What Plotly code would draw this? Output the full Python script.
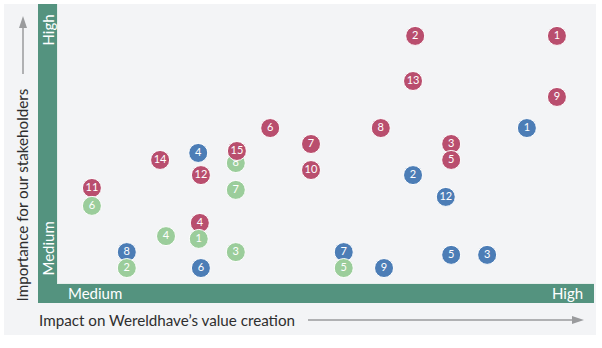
import plotly.graph_objects as go

# ---- data (impact on value creation x, importance for stakeholders y; 0-100 scale) ----
red_labels = ["1", "2", "13", "9", "8", "6", "7", "3", "5", "10", "15", "14", "12", "11", "4"]
red_x = [93.1, 66.7, 66.3, 93.1, 60.3, 39.7, 47.3, 73.4, 73.4, 47.3, 33.5, 19.2, 26.8, 6.5, 26.6]
red_y = [88.6, 88.6, 72.5, 66.8, 55.7, 55.7, 50.0, 50.0, 44.3, 40.7, 47.5, 44.3, 38.9, 34.3, 21.8]

blue_labels = ["1", "4", "2", "12", "7", "8", "5", "3", "6", "9"]
blue_x = [87.5, 26.3, 66.3, 72.4, 53.4, 13.0, 73.4, 80.1, 26.8, 60.9]
blue_y = [55.7, 46.8, 38.9, 31.1, 11.4, 11.4, 10.4, 10.4, 5.7, 5.7]

green_labels = ["8", "7", "6", "4", "1", "3", "2", "5"]
green_x = [33.3, 33.3, 6.5, 20.3, 26.4, 33.3, 13.0, 53.4]
green_y = [43.2, 33.6, 27.9, 17.1, 16.1, 11.4, 5.7, 5.7]

x_title = "Impact on Wereldhave\u2019s value creation"
y_title = "Importance for our stakeholders"
level_low = "Medium"
level_high = "High"

# ---- styling ----
W, H = 602, 348
ML, MR, MT, MB = 57, 8, 4, 64
PW, PH = W - ML - MR, H - MT - MB
FONT = "Lato, Open Sans, sans-serif"
RED, BLUE, GREEN = "#b94e6e", "#4c7db6", "#9bcd9b"
TEAL = "#54937f"
PANEL = "#f3f4f6"
ARROW = "#9a9b9d"


def px(x):
    return (x - ML) / PW


def py(y):
    return (H - MB - y) / PH


def trace(xs, ys, labels, color, idx=None):
    if idx is None:
        idx = range(len(xs))
    idx = list(idx)
    return go.Scatter(
        x=[xs[i] for i in idx], y=[ys[i] for i in idx],
        text=[labels[i] for i in idx],
        mode="markers+text",
        marker=dict(size=19, color=color, line=dict(color="white", width=1)),
        textfont=dict(family=FONT, size=11, color="white"),
        textposition="middle center",
        hoverinfo="skip", showlegend=False, cliponaxis=False,
    )


fig = go.Figure()
fig.add_trace(trace(blue_x, blue_y, blue_labels, BLUE))
fig.add_trace(trace(red_x, red_y, red_labels, RED))
fig.add_trace(trace(green_x, green_y, green_labels, GREEN))
# red "15" sits on top of green "8"
fig.add_trace(trace(red_x, red_y, red_labels, RED, [red_labels.index("15")]))

shapes = [
    # outer panel
    dict(type="rect", xref="paper", yref="paper", layer="below",
         x0=px(4), x1=px(596), y0=py(335), y1=py(4),
         fillcolor=PANEL, line=dict(width=0)),
    # vertical teal bar
    dict(type="rect", xref="paper", yref="paper", layer="below",
         x0=px(38), x1=px(57), y0=py(303), y1=py(4),
         fillcolor=TEAL, line=dict(width=0)),
    # horizontal teal bar
    dict(type="rect", xref="paper", yref="paper", layer="below",
         x0=px(38), x1=px(594), y0=py(303), y1=py(284),
         fillcolor=TEAL, line=dict(width=0)),
    # thin light separators
    dict(type="line", xref="paper", yref="paper", layer="below",
         x0=px(57.5), x1=px(57.5), y0=py(284), y1=py(4),
         line=dict(color="#e6eeeb", width=1)),
    dict(type="line", xref="paper", yref="paper", layer="below",
         x0=px(57), x1=px(594), y0=py(283.5), y1=py(283.5),
         line=dict(color="#e6eeeb", width=1)),
    # x arrow
    dict(type="line", xref="paper", yref="paper",
         x0=px(308), x1=px(574), y0=py(320), y1=py(320),
         line=dict(color=ARROW, width=1.5)),
    dict(type="path", xref="paper", yref="paper",
         path=f"M {px(572)},{py(316)} L {px(584)},{py(320)} L {px(572)},{py(324)} Z",
         fillcolor=ARROW, line=dict(width=0)),
    # y arrow
    dict(type="line", xref="paper", yref="paper",
         x0=px(23), x1=px(23), y0=py(74), y1=py(27),
         line=dict(color=ARROW, width=1.5)),
    dict(type="path", xref="paper", yref="paper",
         path=f"M {px(19)},{py(28)} L {px(23)},{py(16)} L {px(27)},{py(28)} Z",
         fillcolor=ARROW, line=dict(width=0)),
]

annotations = [
    dict(text=level_high, x=px(47.5), y=py(30), textangle=-90),
    dict(text=level_low, x=px(47.5), y=py(249), textangle=-90),
    dict(text=level_low, x=px(95), y=py(293)),
    dict(text=level_high, x=px(567), y=py(293)),
]
annotations = [
    dict(a, xref="paper", yref="paper", showarrow=False,
         xanchor="center", yanchor="middle",
         font=dict(family=FONT, size=15, color="white"))
    for a in annotations
]
annotations += [
    dict(text=x_title, xref="paper", yref="paper", x=px(37), y=py(320),
         xanchor="left", yanchor="middle", showarrow=False,
         font=dict(family=FONT, size=15.2, color="#2e2e2e")),
    dict(text=y_title, xref="paper", yref="paper", x=px(21), y=py(304),
         xanchor="center", yanchor="bottom", textangle=-90, showarrow=False,
         font=dict(family=FONT, size=15.2, color="#2e2e2e")),
]

fig.update_layout(
    width=W, height=H,
    margin=dict(l=ML, r=MR, t=MT, b=MB),
    paper_bgcolor="white", plot_bgcolor=PANEL,
    xaxis=dict(range=[0, 100], visible=False, fixedrange=True),
    yaxis=dict(range=[0, 100], visible=False, fixedrange=True),
    shapes=shapes, annotations=annotations,
    font=dict(family=FONT),
)

fig.write_html("out.html", config={"displayModeBar": False})
